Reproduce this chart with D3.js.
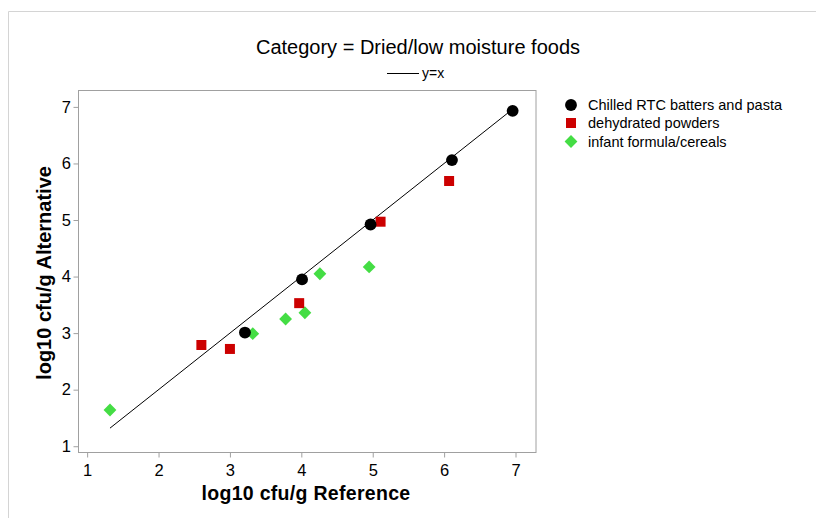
<!DOCTYPE html>
<html><head><meta charset="utf-8">
<script src="https://cdn.jsdelivr.net/npm/d3@7"></script>
<style>body{margin:0;background:#fff;} svg{display:block;font-family:"Liberation Sans",Arial,sans-serif;}</style>
</head><body>
<script>
// Data
const seriesNames = ["Chilled RTC batters and pasta", "dehydrated powders", "infant formula/cereals"];
const chilledRef = [6.96, 6.11, 4.97, 4.01, 3.21];
const chilledAlt = [6.93, 6.06, 4.92, 3.95, 3.01];
const powdersRef = [6.07, 5.11, 3.97, 3.00, 2.60];
const powdersAlt = [5.69, 4.97, 3.53, 2.72, 2.79];
const infantRef = [4.95, 4.26, 4.05, 3.78, 3.32, 1.32];
const infantAlt = [4.17, 4.05, 3.36, 3.25, 2.99, 1.64];
const xTicks = [1, 2, 3, 4, 5, 6, 7];
const yTicks = [1, 2, 3, 4, 5, 6, 7];
const titleText = "Category = Dried/low moisture foods";
const refLineLabel = "y=x";
const xLabel = "log10 cfu/g Reference";
const yLabel = "log10 cfu/g Alternative";

const W = 816, H = 518;
const svg = d3.select("body").append("svg").attr("width", W).attr("height", H);

// outer frame
svg.append("path").attr("d", `M8.5,${H} V11.5 H${W}`).attr("fill", "none").attr("stroke", "#d4d4d4");

const pL = 78.5, pR = 536, pT = 90.5, pB = 452.5;
const x = d3.scaleLinear().domain([0.879, 7.287]).range([pL, pR]);
const y = d3.scaleLinear().domain([0.889, 7.29]).range([pB, pT]);

svg.append("rect").attr("x", pL).attr("y", pT).attr("width", pR - pL).attr("height", pB - pT)
  .attr("fill", "none").attr("stroke", "#a0a0a0");

// axes
const xAxis = d3.axisBottom(x).tickValues(xTicks).tickSize(5).tickPadding(7).tickFormat(d3.format("d"));
const gx = svg.append("g").attr("transform", `translate(0,${pB})`).call(xAxis);
gx.select(".domain").remove();
gx.selectAll("line").attr("stroke", "#a0a0a0");
gx.selectAll("text").style("font-size", "16.5px").attr("fill", "#000").style("font-family", "Liberation Sans, Arial, sans-serif");

const yAxis = d3.axisLeft(y).tickValues(yTicks).tickSize(5).tickPadding(2.5).tickFormat(d3.format("d"));
const gy = svg.append("g").attr("transform", `translate(${pL},0)`).call(yAxis);
gy.select(".domain").remove();
gy.selectAll("line").attr("stroke", "#a0a0a0");
gy.selectAll("text").style("font-size", "16.5px").attr("fill", "#000").style("font-family", "Liberation Sans, Arial, sans-serif");

// y=x line over range of reference values
const allRef = chilledRef.concat(powdersRef, infantRef);
const ext = d3.extent(allRef);
svg.append("line").attr("x1", x(ext[0])).attr("y1", y(ext[0])).attr("x2", x(ext[1])).attr("y2", y(ext[1]))
  .attr("stroke", "#000").attr("stroke-width", 1);

const sym = [d3.symbolCircle, d3.symbolSquare, d3.symbolSquare];
const rot = [0, 0, 45];
const sizes = [110, 100, 82];
const colors = ["#000000", "#cc0000", "#44dd44"];
const series = [
  chilledRef.map((v, i) => [v, chilledAlt[i]]),
  powdersRef.map((v, i) => [v, powdersAlt[i]]),
  infantRef.map((v, i) => [v, infantAlt[i]])
];
[2, 1, 0].forEach(s => {
  svg.append("g").selectAll("path").data(series[s]).join("path")
    .attr("d", d3.symbol().type(sym[s]).size(sizes[s]))
    .attr("transform", d => `translate(${x(d[0])},${y(d[1])}) rotate(${rot[s]})`)
    .attr("fill", colors[s]);
});

// title
svg.append("text").attr("x", 418).attr("y", 54).attr("text-anchor", "middle")
  .attr("font-size", 20).text(titleText);
svg.append("line").attr("x1", 387).attr("x2", 419).attr("y1", 73.5).attr("y2", 73.5).attr("stroke", "#000");
svg.append("text").attr("x", 422).attr("y", 78).attr("font-size", 14).text(refLineLabel);

// axis labels
svg.append("text").attr("x", 306).attr("y", 500).attr("text-anchor", "middle")
  .attr("font-size", 19.5).attr("font-weight", "bold").attr("letter-spacing", 0.3).text(xLabel);
svg.append("text").attr("transform", `translate(51,273) rotate(-90)`).attr("text-anchor", "middle")
  .attr("font-size", 20).attr("font-weight", "bold").text(yLabel);

// legend
const legY = [105, 123, 141.5];
seriesNames.forEach((n, i) => {
  svg.append("path").attr("d", d3.symbol().type(sym[i]).size(sizes[i])).attr("fill", colors[i])
    .attr("transform", `translate(571,${legY[i]}) rotate(${rot[i]})`);
  svg.append("text").attr("x", 588).attr("y", legY[i] + 5).attr("font-size", 14.5).text(n);
});
</script>
</body></html>
